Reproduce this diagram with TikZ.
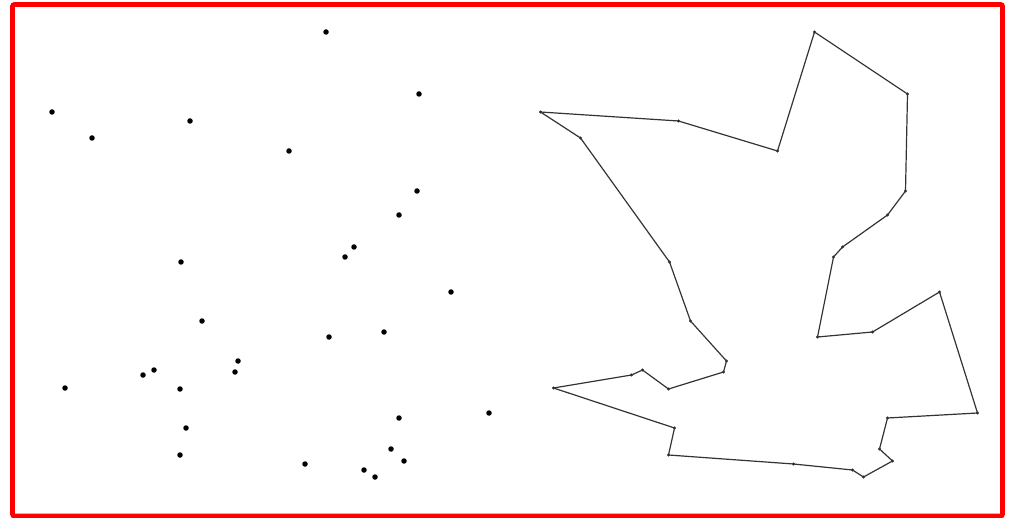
\documentclass[tikz,border=0pt]{standalone}
\begin{document}
\begin{tikzpicture}[x=1pt, y=-1pt,
  city/.style={circle, fill=black, inner sep=0pt, minimum size=5.5pt},
  stop/.style={circle, fill=black!85, inner sep=0pt, minimum size=3.2pt},
  leg/.style={black!80, line width=1.2pt}]
  \useasboundingbox (0,0) rectangle (1011,518);
  % frame
  \draw[red, line width=4.8pt, rounded corners=2pt] (12.5,4.5) rectangle (1002.5,516);
  % the cities (left) and the same cities on the tour (right), in tour order
  \foreach \px/\py [count=\i] in {52/112, 190/121, 289/151, 326/32, 419/94,
      417/191, 399/215, 354/247, 345/257, 329/337, 384/332, 451/292,
      489/413, 399/418, 391/449, 404/461, 375/477, 364/470, 305/464,
      180/455, 186/428, 65/388, 143/375, 154/370, 180/389, 235/372,
      238/361, 202/321, 181/262, 92/138} {
    \node[city] (c\i) at (\px,\py) {};
    \node[stop] (t\i) at (\px+488.5,\py) {};
  }
  % the closed tour
  \foreach \i [evaluate=\i as \j using {int(mod(\i,30)+1)}] in {1,...,30}
    \draw[leg] (t\i.center) -- (t\j.center);
\end{tikzpicture}
\end{document}
